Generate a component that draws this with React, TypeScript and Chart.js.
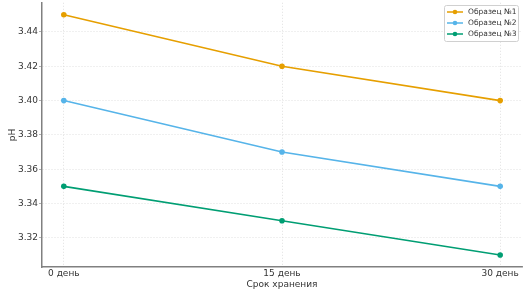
import React, { useEffect, useRef } from "react";
import { Chart, registerables } from "chart.js";

Chart.register(...registerables);

const days = [0, 15, 30];
const dayLabels = ["0 день", "15 день", "30 день"];
const sample1 = [3.45, 3.42, 3.4];
const sample2 = [3.4, 3.37, 3.35];
const sample3 = [3.35, 3.33, 3.31];
const seriesNames = ["Образец №1", "Образец №2", "Образец №3"];
const seriesColors = ["#E69F00", "#56B4E9", "#009E73"];
const yTicks = [3.32, 3.34, 3.36, 3.38, 3.4, 3.42, 3.44];

const FONT = "'DejaVu Sans', sans-serif";

const legendPlugin = {
  id: "mplLegend",
  afterDraw(chart: any) {
    const ctx = chart.ctx;
    const fs = 7.5;
    ctx.save();
    ctx.font = `${fs}px ${FONT}`;
    const ds = chart.data.datasets;
    const x0 = 444;
    const y0 = 5;
    const boxW = 74;
    const rowH = 11;
    const boxH = ds.length * rowH + 3;
    ctx.fillStyle = "rgba(255,255,255,0.85)";
    ctx.strokeStyle = "#d0d0d0";
    ctx.lineWidth = 1;
    ctx.beginPath();
    ctx.roundRect(x0 + 0.5, y0 + 0.5, boxW, boxH, 2);
    ctx.fill();
    ctx.stroke();
    ds.forEach((d: any, i: number) => {
      const cy = 12 + rowH * i;
      const lx = 447;
      ctx.strokeStyle = d.borderColor;
      ctx.lineWidth = 1.5;
      ctx.beginPath();
      ctx.moveTo(lx, cy);
      ctx.lineTo(lx + 16, cy);
      ctx.stroke();
      ctx.fillStyle = d.borderColor;
      ctx.beginPath();
      ctx.arc(lx + 8, cy, 2.3, 0, Math.PI * 2);
      ctx.fill();
      ctx.fillStyle = "#333";
      ctx.textBaseline = "middle";
      ctx.textAlign = "left";
      ctx.fillText(d.label, 468, cy + 0.5);
    });
    ctx.restore();
  },
};

export default function App() {
  const ref = useRef<HTMLCanvasElement>(null);
  useEffect(() => {
    if (!ref.current) return;
    const seriesData = [sample1, sample2, sample3];
    const chart = new Chart(ref.current, {
      type: "line",
      data: {
        datasets: seriesData.map((vals, i) => ({
          label: seriesNames[i],
          data: days.map((d, j) => ({ x: d, y: vals[j] })),
          borderColor: seriesColors[i],
          backgroundColor: seriesColors[i],
          borderWidth: 1.6,
          pointRadius: 2.8,
          pointHoverRadius: 2.8,
          pointBorderWidth: 0,
          tension: 0,
        })),
      },
      options: {
        responsive: false,
        animation: false,
        layout: { padding: { top: 2, right: 8, left: 0, bottom: 0 } },
        plugins: {
          legend: { display: false },
          tooltip: { enabled: false },
        },
        scales: {
          x: {
            type: "linear",
            min: -1.5,
            max: 31.5,
            afterBuildTicks(scale: any) {
              scale.ticks = days.map((v) => ({ value: v }));
            },
            afterFit(scale: any) {
              scale.height = 31;
              scale.paddingLeft = 0;
              scale.paddingRight = 0;
            },
            ticks: {
              callback: (v: any) => {
                const idx = days.indexOf(Number(v));
                return idx >= 0 ? dayLabels[idx] : "";
              },
              color: "#333",
              font: { family: FONT, size: 9 },
              padding: 1,
              maxRotation: 0,
              autoSkip: false,
            },
            grid: {
              color: "#d8d8d8",
              tickColor: "#999",
              drawTicks: false,
              tickLength: 0,
              lineWidth: 0.8,
            },
            border: { color: "#808080", width: 1.5, dash: [1, 2] },
            title: {
              display: true,
              text: "Срок хранения",
              color: "#333",
              font: { family: FONT, size: 9 },
              padding: { top: 0, bottom: 7.5 },
            },
          },
          y: {
            type: "linear",
            min: 3.303,
            max: 3.457,
            afterBuildTicks(scale: any) {
              scale.ticks = yTicks.map((v) => ({ value: v }));
            },
            afterFit(scale: any) {
              scale.width = 42;
              scale.paddingTop = 0;
              scale.paddingBottom = 0;
            },
            ticks: {
              callback: (v: any) => Number(v).toFixed(2),
              color: "#333",
              font: { family: FONT, size: 9 },
              padding: 1,
            },
            grid: {
              color: "#d8d8d8",
              tickColor: "#999",
              tickBorderDash: [],
              tickLength: 3,
              lineWidth: 0.8,
            },
            border: { color: "#808080", width: 1.5, dash: [1, 2] },
            title: {
              display: true,
              text: "pH",
              color: "#333",
              font: { family: FONT, size: 9 },
              padding: { top: 7.5, bottom: 0 },
            },
          },
        },
      },
      plugins: [legendPlugin],
    } as any);
    return () => chart.destroy();
  }, []);
  return (
    <div style={{ position: "fixed", left: 0, top: 0, width: 530, height: 298, background: "#fff" }}>
      <canvas ref={ref} width={530} height={298} style={{ display: "block" }} />
    </div>
  );
}
